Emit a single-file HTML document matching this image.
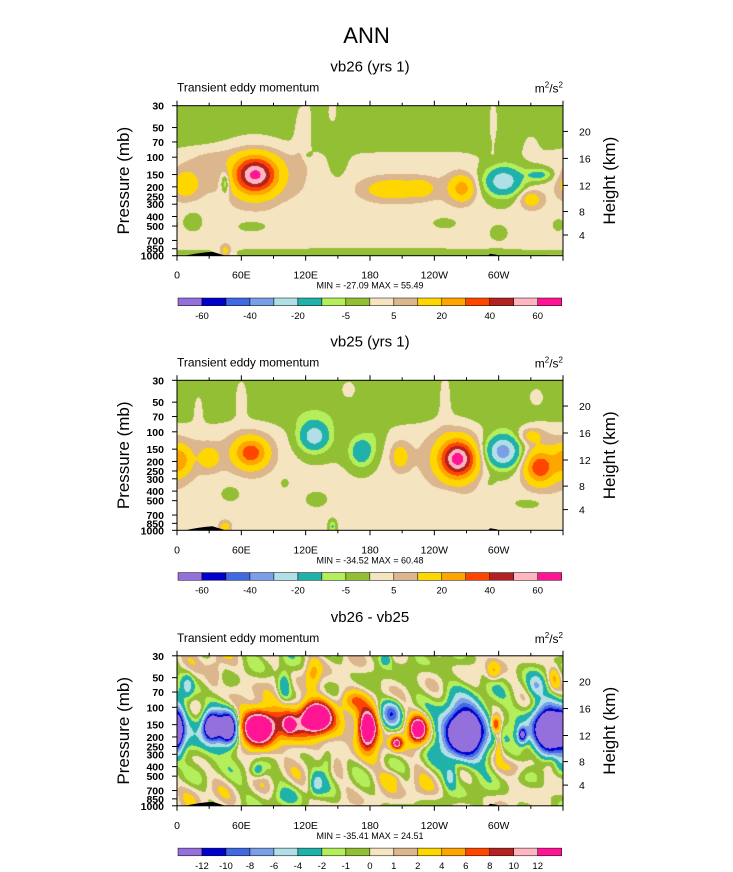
<!DOCTYPE html>
<html><head><meta charset="utf-8">
<style>
body{margin:0;background:#fff;}
#wrap{position:relative;width:733px;height:872px;overflow:hidden;font-family:"Liberation Sans",sans-serif;}
canvas{position:absolute;}
svg{position:absolute;left:0;top:0;}
</style></head>
<body>
<div id="wrap">
<canvas id="c0"></canvas>
<canvas id="c1"></canvas>
<canvas id="c2"></canvas>
<svg id="ov" width="733" height="872"></svg>
</div>
<script>
// ---- data ----
const colors=["#9370db","#0000cd","#4169e1","#7b9ee8","#b0e0e6","#20b2aa","#b4ee5a","#93bf35","#f5e4c0","#dcb68c","#ffd700","#ffa500","#ff4500","#b22222","#ffb6c1","#ff1493"];
const levelsAbs=[-60,-50,-40,-30,-20,-10,-5,0,5,10,20,30,40,50,60];
const levelsDiff=[-12,-10,-8,-6,-4,-2,-1,0,1,2,4,6,8,10,12];
const barLabelsAbs=["-60","","-40","","-20","","-5","","5","","20","","40","","60"];
const barLabelsDiff=["-12","-10","-8","-6","-4","-2","-1","0","1","2","4","6","8","10","12"];
const presTicks=[30,50,70,100,150,200,250,300,400,500,700,850,1000];
const heightTicks=[4,8,12,16,20];
const lonTicks=[0,60,120,180,240,300];
const lonLabels=["0","60E","120E","180","120W","60W"];
const titles=["vb26 (yrs 1)","vb25 (yrs 1)","vb26 - vb25"];
const minmax=["MIN = -27.09  MAX =  55.49","MIN = -34.52  MAX =  60.48","MIN = -35.41  MAX =  24.51"];
// blobs: [lon, pressure(mb), amplitude, lonWidth(deg), heightWidth(fraction)]
const blobs0=[[73,150,62,18,.11],[8,185,16,12,.09],[45,180,-17,4,.07],[200,210,15,25,.07],[228,205,12,10,.05],
[266,205,24,11,.08],[304,175,-30,16,.09],[338,150,-14,12,.04],[330,265,15,10,.06],[45,890,13,5,.04],
[115,60,4,6,.25],[122,40,4,3,.2],[145,35,4,6,.1],[295,45,4,5,.2],[330,75,4,8,.08],[30,95,3,25,.06],
[150,110,-4,10,.15],[70,490,-4,18,.05],[15,430,-4,10,.08],[300,585,-4,8,.05],[250,460,-4,12,.04],
[180,930,-3.5,220,.035],[122,95,-5,4,.03],[100,380,-3,6,.05],[355,480,-3,6,.05]];
const blobs1=[[2,195,24,10,.09],[30,185,14,9,.07],[69,165,36,14,.09],[128,112,-28,13,.09],[172,160,-19,10,.09],
[208,180,14,8,.08],[262,190,66,15,.11],[304,160,-40,15,.1],[338,230,38,13,.1],[330,110,13,10,.05],
[45,920,13,5,.035],[145,920,-13,3,.035],[185,110,-4,10,.12],[50,420,-4,10,.06],[130,490,-4,10,.05],
[250,460,-4,12,.05],[330,530,-4,18,.05],[60,45,4,7,.15],[160,38,4,9,.08],[335,45,4,9,.08],[250,43,4,6,.2],
[20,60,4,5,.12],[290,330,-3,7,.05],[100,330,-3,6,.05]];
const blobs2=[[32,155,-18,7,.08],[48,160,-18,7,.09],[38,175,-6,14,.13],[0,170,-14,6,.12],[76,160,22,13,.1],
[105,150,14,4,.04],[130,125,22,11,.08],[115,145,7,32,.12],[165,85,4,12,.06],[178,165,21,8,.11],
[225,165,19,8,.08],[205,230,13,5,.04],[200,115,-9,9,.08],[268,175,-24,18,.15],[297,150,10,4,.05],
[300,230,4,3,.1],[346,170,-23,13,.14],[322,190,-13,4,.05],[10,60,-4,5,.07],[100,60,-4.5,6,.1],
[127,45,4,6,.08],[35,45,3,8,.1],[195,32,-4,5,.04],[295,43,4,6,.06],[335,60,-4,7,.07],[352,50,4,5,.07],
[130,600,-4,6,.07],[75,440,-4,6,.05],[255,500,-4,5,.07],[320,400,3,14,.06],[20,700,1.5,15,.08],
[230,700,1.5,20,.08],[100,800,-1.5,15,.06],[350,350,3,7,.06],[140,360,-3,6,.08],[200,520,2.5,10,.05]];
const tailWeights=[0.18,0.18,0.1];
// ---- geometry ----
const X0=177,PW=386,PH=150;
const tops=[105.7,380.3,655.8];
function yFrac(p){return (Math.log10(p)-Math.log10(30))/(Math.log10(1000)-Math.log10(30));}
function xOf(lon){return X0+lon/360*PW;}
function pOfH(km){const h=km*1000;return h<11000?1013.25*Math.pow(1-2.25577e-5*h,5.25588):226.32*Math.exp(-(h-11000)/6341.6);}
function colorIdx(v,lv){let i=0;while(i<lv.length&&v>=lv[i])i++;return i;}
function hex(c){return [parseInt(c.slice(1,3),16),parseInt(c.slice(3,5),16),parseInt(c.slice(5,7),16)];}
const rgb=colors.map(hex);
function base(k,f,lon){
 const r=Math.PI/180;
 if(k<2){const s=1/(1+Math.exp(-(0.3-f)/0.03));return 1.8-4.5*s;}
 return 0.05+1.4*Math.sin(lon*r*6+f*7)*Math.cos(lon*r*3.5-f*13)+0.9*Math.sin(lon*r*9-f*20);
}
const allBlobs=[blobs0,blobs1,blobs2];
for(let k=0;k<3;k++){
 const cv=document.getElementById('c'+k);
 cv.width=PW;cv.height=PH;cv.style.left=X0+'px';cv.style.top=tops[k]+'px';
 const ctx=cv.getContext('2d');const im=ctx.createImageData(PW,PH);
 const tw=tailWeights[k];
 const lv=k<2?levelsAbs:levelsDiff;const bl=allBlobs[k].map(b=>[b[0],yFrac(b[1]),b[2],b[3],b[4]]);
 for(let j=0;j<PH;j++){const f=(j+0.5)/PH;
  for(let i=0;i<PW;i++){const lon=(i+0.5)/PW*360;let v=base(k,f,lon);
   for(const b of bl){let dx=lon-b[0];if(dx>180)dx-=360;if(dx<-180)dx+=360;const e=(dx/b[3])**2+((f-b[1])/b[4])**2;if(e<40)v+=b[2]*((1-tw)*Math.exp(-e)+tw*Math.exp(-e/4));}
   const c=rgb[colorIdx(v,lv)];const o=(j*PW+i)*4;im.data[o]=c[0];im.data[o+1]=c[1];im.data[o+2]=c[2];im.data[o+3]=255;}}
 ctx.putImageData(im,0,0);
}
// ---- overlay ----
const svg=document.getElementById('ov');const NS='http://www.w3.org/2000/svg';
function el(t,a,txt){const e=document.createElementNS(NS,t);for(const k in a)e.setAttribute(k,a[k]);if(txt!==undefined)e.textContent=txt;svg.appendChild(e);return e;}
let t=el('text',{x:366.5,y:43,'font-size':22,'text-anchor':'middle'},'ANN');


for(let k=0;k<3;k++){
 const T=tops[k],B=T+PH,R=X0+PW;
 t=el('text',{x:370,y:T-34,'font-size':15,'text-anchor':'middle'},titles[k]);
 
 
 t=el('text',{x:X0,y:T-14,'font-size':12},'Transient eddy momentum');
 
 
 t=el('text',{x:R,y:T-13,'font-size':12,'text-anchor':'end'});t.innerHTML='m<tspan dy="-5" font-size="8">2</tspan><tspan dy="5">/s</tspan><tspan dy="-5" font-size="8">2</tspan>';
 
 
 let g=el('path',{d:`M${xOf(8)},${B} Q${xOf(20)},${B-3} ${xOf(33)},${B-4} L${xOf(45)},${B} Z M${xOf(290)},${B} L${xOf(292)},${B-2} L${xOf(298)},${B-1} L${xOf(300)},${B} Z`,fill:'#000'});
 
 
 g=el('rect',{x:X0,y:T,width:PW,height:PH,fill:'none',stroke:'#000','stroke-width':1});
 
 
 for(const p of presTicks){const y=T+yFrac(p)*PH;
  el('line',{x1:X0-5,x2:X0,y1:y,y2:y,stroke:'#000'});
  t=el('text',{x:X0-13,y:y+4,'font-size':10.5,'font-weight':'bold','text-anchor':'end'},String(p));
  
  }
 for(const h of heightTicks){const y=T+yFrac(pOfH(h))*PH;
  el('line',{x1:R,x2:R+5,y1:y,y2:y,stroke:'#000'});
  t=el('text',{x:R+16,y:y+4,'font-size':10.5});t.textContent=String(h);
  
  }
 for(let lon=0;lon<=360;lon+=30){const x=xOf(lon);const L=lon%60===0?5:3;
  el('line',{x1:x,x2:x,y1:B,y2:B+L,stroke:'#000'});el('line',{x1:x,x2:x,y1:T,y2:T-L,stroke:'#000'});}
 lonTicks.forEach((lon,i)=>{t=el('text',{x:xOf(lon),y:B+23,'font-size':10.5,'text-anchor':'middle'},lonLabels[i]);
  
  });
 t=el('text',{x:370,y:B+33,'font-size':9,'text-anchor':'middle'},minmax[k]);
 
 
 t=el('text',{x:0,y:0,'font-size':17,'text-anchor':'middle',transform:`translate(129,${T+PH/2}) rotate(-90)`},'Pressure (mb)');
 
 
 t=el('text',{x:0,y:0,'font-size':17,'text-anchor':'middle',transform:`translate(615,${T+PH/2}) rotate(-90)`},'Height (km)');
 
 
 const cy=T+192.3,bx=178,bw=(561.7-178)/16;
 colors.forEach((c,i)=>{g=el('rect',{x:bx+i*bw,y:cy,width:bw,height:7.7,fill:c,stroke:'#000','stroke-width':0.5});
  
  });
 const labs=k<2?barLabelsAbs:barLabelsDiff;
 labs.forEach((s,i)=>{if(!s)return;t=el('text',{x:bx+(i+1)*bw,y:cy+21,'font-size':9.5,'text-anchor':'middle'},s);
  
  });
}
</script>
</body></html>
